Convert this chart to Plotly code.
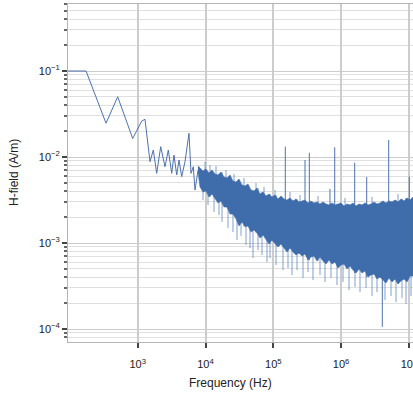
import math
import plotly.graph_objects as go

# ---- low-frequency part of the spectrum (Hz, A/m) ----
lf_freq = [94, 173, 341, 507, 844, 1146, 1281, 1519, 1699, 1906, 2184, 2527,
           2828, 3174, 3430, 3760, 4066, 4457, 4984, 5708, 6111, 6609, 7001, 7751]
lf_h = [0.1, 0.1, 0.0247, 0.0502, 0.01641, 0.0262, 0.02745, 0.00882, 0.01206,
        0.00646, 0.01318, 0.00771, 0.01206, 0.00646, 0.01055, 0.00618, 0.00923,
        0.00591, 0.00882, 0.01886, 0.00646, 0.00771, 0.00413, 0.0070]

# ---- noisy band: dense core, upper and lower edge ----
band_freq = [7751, 8297, 9187, 10171, 11260, 12470, 13805, 15290, 16925, 18745,
             20754, 22980, 25440, 28180, 31200, 34540, 38240, 42340, 46900, 51920,
             57500, 63660, 70490, 78050, 86440, 95680, 105950, 117300, 129900, 143800,
             159300, 176300, 195300, 216200, 239400, 265100, 293500, 324900, 359700,
             398400, 441000, 488400, 540700, 598800, 663000, 734200, 812800, 900200,
             996600, 1103500, 1221800, 1353000, 1498000, 1658900, 1836600, 2033800,
             2251800, 2493700, 2760700, 3057300, 3385000, 3748000, 4150000, 4595000,
             5088000, 5634000, 6237000, 6907000, 7647000, 8468000, 9376000, 10380000,
             11500000]
band_upper = [0.00786, 0.00745, 0.00687, 0.00725, 0.00652, 0.00706, 0.00634, 0.00618,
              0.00669, 0.00586, 0.00570, 0.00618, 0.00526, 0.00512, 0.00555, 0.00473,
              0.00460, 0.00485, 0.00413, 0.00403, 0.00436, 0.00371, 0.00392, 0.00352,
              0.00371, 0.00343, 0.00362, 0.00325, 0.00352, 0.00325, 0.00316, 0.00334,
              0.00308, 0.00325, 0.00300, 0.00308, 0.00316, 0.00292, 0.00308, 0.00292,
              0.00300, 0.00284, 0.00300, 0.00284, 0.00277, 0.00292, 0.00277, 0.00284,
              0.00292, 0.00269, 0.00284, 0.00277, 0.00292, 0.00269, 0.00284, 0.00277,
              0.00292, 0.00277, 0.00284, 0.00300, 0.00284, 0.00292, 0.00308, 0.00292,
              0.00308, 0.00300, 0.00316, 0.00300, 0.00325, 0.00308, 0.00334, 0.00316,
              0.00343]
band_lower = [0.00669, 0.00448, 0.00392, 0.00403, 0.00343, 0.00371, 0.00334, 0.00292,
              0.00308, 0.00262, 0.00262, 0.00217, 0.00217, 0.00191, 0.00158, 0.00176,
              0.00155, 0.00158, 0.00134, 0.00142, 0.00131, 0.00114, 0.00124, 0.00111,
              0.000974, 0.00108, 0.00100, 0.000898, 0.000974, 0.000875, 0.000786,
              0.000875, 0.000786, 0.000725, 0.000765, 0.000706, 0.000745, 0.000634,
              0.000687, 0.000706, 0.000618, 0.000687, 0.000618, 0.000570, 0.000634,
              0.000570, 0.000601, 0.000512, 0.000555, 0.000570, 0.000499, 0.000540,
              0.000485, 0.000448, 0.000499, 0.000448, 0.000473, 0.000402, 0.000425,
              0.000436, 0.000382, 0.000402, 0.000371, 0.000343, 0.000392, 0.000352,
              0.000382, 0.000334, 0.000362, 0.000382, 0.000352, 0.000413, 0.000413]

# ---- thin noise tails below and above the dense core ----
tail_lo_freq = [9187, 10886, 13349, 15819, 17514, 21473, 25440, 29150, 33390, 39570,
                45320, 50190, 59480, 68130, 80740, 89400, 109600, 139000, 164800,
                188700, 223700, 274300, 324900, 385000, 488400, 578700, 709600,
                869900, 1066600, 1307600, 1603200, 1900100, 2329600, 2856000,
                3385000, 4441000, 5445000, 6452000, 7910000, 9065000, 10740000]
tail_lo_val = [0.00316, 0.00277, 0.00229, 0.00212, 0.00176, 0.00150, 0.00134, 0.00108,
               0.00121, 0.000948, 0.000875, 0.000669, 0.000829, 0.000725, 0.000601,
               0.000669, 0.000555, 0.000485, 0.000512, 0.000425, 0.000485, 0.000392,
               0.000460, 0.000371, 0.000425, 0.000352, 0.000392, 0.000325, 0.000352,
               0.000284, 0.000308, 0.000269, 0.000300, 0.000242, 0.000269, 0.000217,
               0.000242, 0.000206, 0.000229, 0.000195, 0.000242]
tail_hi_freq = [9832, 11650, 14285, 20060, 26330, 36970, 55570, 72920, 105950,
                176300, 247600, 456300, 1141800, 2856000, 6907000]
tail_hi_val = [0.00875, 0.00807, 0.00786, 0.00706, 0.00634, 0.00570, 0.00499, 0.00448,
               0.00413, 0.00392, 0.00362, 0.00352, 0.00334, 0.00343, 0.00371]

# ---- narrow spectral lines ----
spike_freq = [150300, 293500, 340000, 685000, 805000, 1587000, 2386000, 5035000, 10140000]
spike_peak = [0.01318, 0.00923, 0.0112, 0.00425, 0.01297, 0.00859, 0.00586, 0.01577, 0.0059]
dip_freq = [4053000]
dip_val = [0.000106]

x_tickvals = [1e3, 1e4, 1e5, 1e6, 1e7]
x_ticktext = ["10<sup>3</sup>", "10<sup>4</sup>", "10<sup>5</sup>", "10<sup>6</sup>", "10<sup>7</sup>"]
y_tickvals = [1e-4, 1e-3, 1e-2, 1e-1]
y_ticktext = ["10<sup>\u22124</sup>", "10<sup>\u22123</sup>", "10<sup>\u22122</sup>", "10<sup>\u22121</sup>"]
y_minor = [k * 10.0 ** e for e in range(-5, 0) for k in range(2, 10)]

BLUE = "#4c72b0"
BAND = "#3f6caa"
TXT = "#222222"


def nearest(freq_list, f):
    lf = math.log10(f)
    return min(range(len(freq_list)), key=lambda i: abs(math.log10(freq_list[i]) - lf))


fig = go.Figure()

# thin tails (drawn first; they start inside the band, end at the read value)
tx, ty = [], []
for f, v in zip(tail_lo_freq, tail_lo_val):
    i = nearest(band_freq, f)
    tx += [f, f, None]
    ty += [band_upper[i], v, None]
for f, v in zip(tail_hi_freq, tail_hi_val):
    i = nearest(band_freq, f)
    tx += [f, f, None]
    ty += [band_lower[i], v, None]
fig.add_trace(go.Scatter(x=tx, y=ty, mode="lines",
                         line=dict(color="#6088c0", width=0.8), hoverinfo="skip"))

# spectral lines
sx, sy = [], []
for f, p in zip(spike_freq + dip_freq, spike_peak + dip_val):
    i = nearest(band_freq, f)
    base = band_lower[i] if p > band_upper[i] else band_upper[i]
    sx += [f, f, None]
    sy += [base, p, None]
fig.add_trace(go.Scatter(x=sx, y=sy, mode="lines",
                         line=dict(color=BLUE, width=1), hoverinfo="skip"))

# band polygon
fig.add_trace(go.Scatter(
    x=band_freq + band_freq[::-1],
    y=band_upper + band_lower[::-1],
    mode="lines", fill="toself", fillcolor=BAND,
    line=dict(color=BAND, width=0.6), hoverinfo="skip"))

# low-frequency line
fig.add_trace(go.Scatter(x=lf_freq, y=lf_h, mode="lines",
                         line=dict(color=BLUE, width=1)))

fig.update_layout(
    width=413, height=396,
    margin=dict(l=68, r=0, t=4, b=54, autoexpand=False),
    plot_bgcolor="white", paper_bgcolor="white",
    showlegend=False,
    font=dict(family="Liberation Sans, Arial, sans-serif", size=11, color=TXT),
    annotations=[
        dict(text="Frequency (Hz)", xref="paper", yref="paper",
             x=0.4696, y=-0.12, xanchor="center", yanchor="middle",
             showarrow=False, font=dict(size=12, color=TXT)),
        dict(text="H-field (A/m)", xref="paper", yref="paper",
             x=-0.1565, y=0.5, xanchor="center", yanchor="middle", textangle=-90,
             showarrow=False, font=dict(size=12, color=TXT)),
    ],
)

fig.update_xaxes(
    type="log", range=[1.972, 7.0605], automargin=False,
    tickmode="array", tickvals=x_tickvals, ticktext=x_ticktext,
    ticklabeloverflow="allow", ticklabelstandoff=7,
    tickfont=dict(color=TXT, size=11),
    showgrid=True, gridcolor="#cccccc", gridwidth=1.5,
    ticks="outside", ticklen=5, tickcolor="#444444", tickwidth=1.5,
    showline=True, linecolor="#b5b5b5", linewidth=1, mirror=True,
    zeroline=False,
)
fig.update_yaxes(
    type="log", range=[-4.151, -0.221], automargin=False,
    tickmode="array", tickvals=y_tickvals, ticktext=y_ticktext,
    tickfont=dict(color=TXT, size=11),
    showgrid=True, gridcolor="#cccccc", gridwidth=1.3,
    ticks="outside", ticklen=5, tickcolor="#444444", tickwidth=1.5,
    showline=True, linecolor="#b5b5b5", linewidth=1,
    minor=dict(tickmode="array", tickvals=y_minor, ticks="outside", ticklen=3,
               tickcolor="#666666", showgrid=True, gridcolor="#e0e0e0", gridwidth=1),
    zeroline=False,
)

fig.write_html(
    "out.html",
    config={"displayModeBar": False},
    post_script="document.body.style.margin='0';document.body.style.overflow='hidden';",
)
